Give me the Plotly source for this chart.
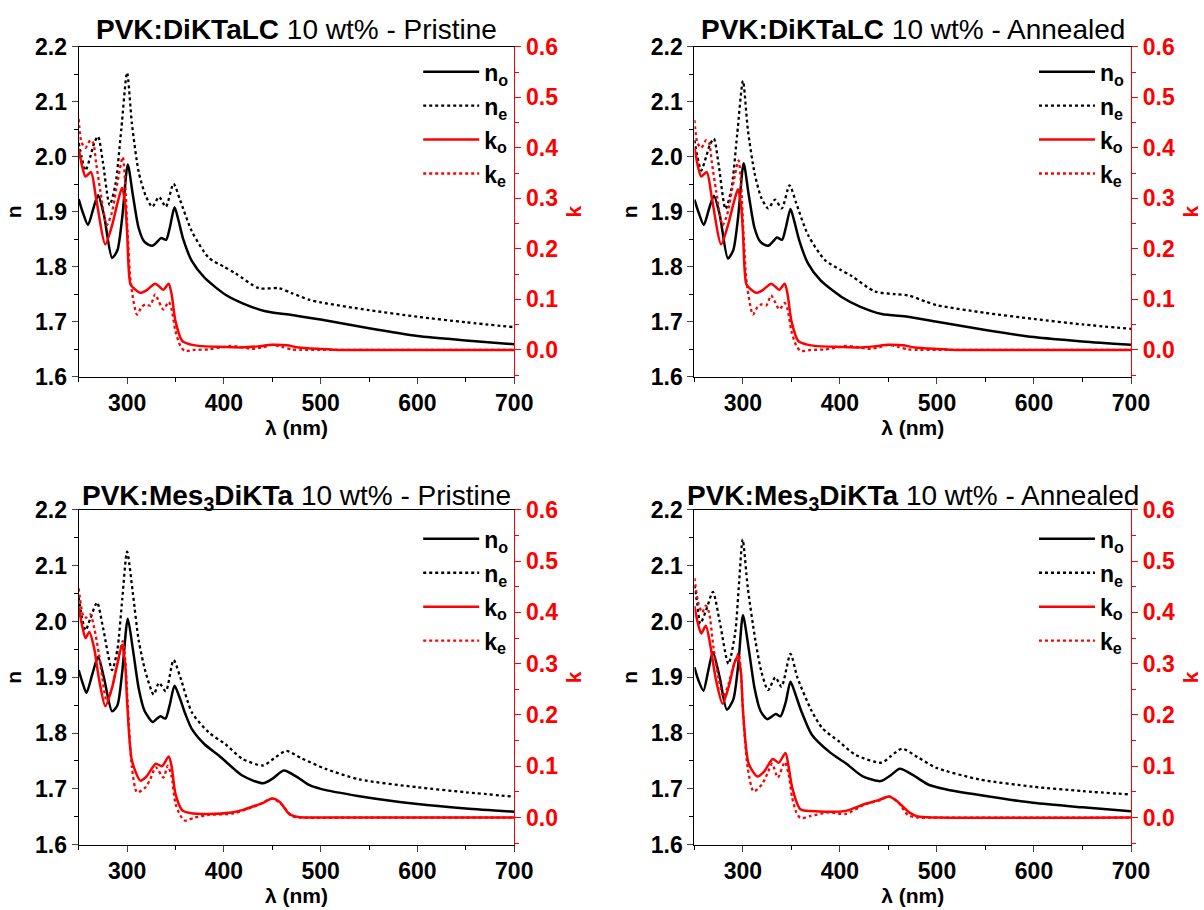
import plotly.graph_objects as go

# ---------------- data: PVK:DiKTaLC pristine (top-left) ----------------
wl_no_tl = [250, 254, 259.6, 265, 270, 276, 284.5, 290, 295, 300.7, 306, 312, 318, 325.9, 331, 335, 340.3, 344, 349, 353, 358, 367, 380, 401.7, 420, 443, 470, 500, 550, 600, 650, 700]
no_tl = [1.923, 1.90, 1.876, 1.905, 1.930, 1.895, 1.816, 1.83, 1.89, 1.986, 1.93, 1.87, 1.845, 1.838, 1.845, 1.852, 1.849, 1.87, 1.908, 1.885, 1.85, 1.810, 1.78, 1.749, 1.733, 1.719, 1.712, 1.704, 1.688, 1.674, 1.666, 1.659]
wl_ne_tl = [250, 253, 257, 262, 266, 270, 275, 282, 288, 294, 300, 305, 312, 319, 326, 333, 340, 348, 355, 367, 384.5, 400, 412, 436, 457, 470, 488, 500, 550, 600, 650, 700]
ne_tl = [2.025, 2.00, 1.975, 2.0, 2.025, 2.037, 1.99, 1.912, 1.95, 2.05, 2.153, 2.06, 1.972, 1.93, 1.909, 1.927, 1.909, 1.951, 1.92, 1.864, 1.816, 1.80, 1.788, 1.761, 1.761, 1.752, 1.740, 1.735, 1.721, 1.709, 1.699, 1.690]
wl_ko_tl = [250, 254, 257, 262.7, 268, 277.5, 285, 290, 294.8, 298, 300, 303.5, 308, 313.8, 320, 329, 333, 337.5, 343, 346, 350, 356.9, 365, 374, 400, 419, 435, 450, 465, 477, 500, 520, 550, 600, 650, 700]
ko_tl = [0.398, 0.36, 0.343, 0.352, 0.30, 0.209, 0.25, 0.29, 0.321, 0.29, 0.234, 0.130, 0.12, 0.113, 0.118, 0.131, 0.126, 0.119, 0.131, 0.11, 0.057, 0.018, 0.011, 0.008, 0.006, 0.005, 0.007, 0.010, 0.009, 0.005, 0.002, 0.0, 0.0, 0.0, 0.0, 0.0]
wl_ke_tl = [250, 253, 257, 262, 265, 268, 272.5, 279, 284, 289, 295.5, 298, 300.5, 304, 310.3, 315, 319, 324, 329, 333, 337.5, 343, 346, 350, 355, 359.6, 370, 384.5, 400, 407.5, 420, 429, 440, 450, 460, 470, 480, 500, 550, 600, 700]
ke_tl = [0.457, 0.41, 0.40, 0.415, 0.41, 0.37, 0.313, 0.247, 0.27, 0.32, 0.382, 0.33, 0.234, 0.130, 0.070, 0.085, 0.090, 0.088, 0.110, 0.095, 0.080, 0.095, 0.08, 0.037, 0.008, -0.002, 0.0, 0.001, 0.006, 0.008, 0.005, 0.002, 0.005, 0.010, 0.006, 0.001, 0.0, 0.0, 0.0, 0.0, 0.0]

# ---------------- data: PVK:DiKTaLC annealed (top-right) ----------------
wl_no_tr = wl_no_tl
no_tr = [1.922, 1.90, 1.876, 1.905, 1.929, 1.895, 1.815, 1.83, 1.89, 1.988, 1.93, 1.87, 1.845, 1.838, 1.846, 1.853, 1.849, 1.87, 1.905, 1.882, 1.848, 1.806, 1.775, 1.745, 1.728, 1.714, 1.709, 1.700, 1.685, 1.672, 1.664, 1.658]
wl_ne_tr = wl_ne_tl
ne_tr = [2.03, 2.00, 1.975, 2.0, 2.022, 2.033, 1.985, 1.905, 1.94, 2.04, 2.138, 2.05, 1.97, 1.925, 1.906, 1.922, 1.906, 1.948, 1.915, 1.858, 1.812, 1.795, 1.783, 1.755, 1.750, 1.748, 1.737, 1.730, 1.716, 1.705, 1.695, 1.687]
wl_ko_tr = wl_ko_tl
ko_tr = [0.40, 0.36, 0.343, 0.352, 0.30, 0.209, 0.25, 0.288, 0.318, 0.288, 0.232, 0.130, 0.12, 0.113, 0.118, 0.131, 0.126, 0.119, 0.131, 0.11, 0.057, 0.018, 0.011, 0.008, 0.006, 0.005, 0.007, 0.010, 0.009, 0.005, 0.002, 0.0, 0.0, 0.0, 0.0, 0.0]
wl_ke_tr = wl_ke_tl
ke_tr = [0.455, 0.41, 0.40, 0.415, 0.41, 0.37, 0.313, 0.247, 0.27, 0.32, 0.375, 0.33, 0.234, 0.130, 0.070, 0.085, 0.090, 0.088, 0.108, 0.095, 0.080, 0.093, 0.08, 0.037, 0.008, -0.002, 0.0, 0.001, 0.006, 0.008, 0.005, 0.002, 0.005, 0.010, 0.006, 0.001, 0.0, 0.0, 0.0, 0.0, 0.0]

# ---------------- data: PVK:Mes3DiKTa pristine (bottom-left) ----------------
wl_no_bl = [250, 254, 258, 264, 270, 276, 284.5, 290, 295, 300.7, 306, 312, 318, 326.5, 331, 334.5, 339.6, 344, 349, 354, 360, 367, 380, 394.8, 419, 440.5, 450, 462, 475, 488, 500, 540, 600, 650, 700]
no_bl = [1.913, 1.89, 1.872, 1.905, 1.937, 1.90, 1.839, 1.85, 1.91, 2.005, 1.95, 1.88, 1.84, 1.820, 1.826, 1.830, 1.826, 1.85, 1.885, 1.865, 1.835, 1.807, 1.78, 1.760, 1.724, 1.710, 1.718, 1.733, 1.722, 1.707, 1.700, 1.687, 1.673, 1.665, 1.659]
wl_ne_bl = [250, 253, 257, 262, 269, 275, 284.5, 290, 295, 300, 306, 312, 319, 327.5, 333, 340, 348, 355, 367, 384.5, 401.7, 419, 440.5, 452, 464.5, 480, 505, 540, 600, 650, 700]
ne_bl = [2.043, 2.01, 1.984, 2.005, 2.034, 1.99, 1.913, 1.95, 2.04, 2.125, 2.05, 1.966, 1.91, 1.869, 1.890, 1.875, 1.931, 1.90, 1.837, 1.801, 1.780, 1.754, 1.742, 1.755, 1.768, 1.755, 1.736, 1.717, 1.703, 1.694, 1.686]
wl_ko_bl = [250, 254, 257, 261, 266, 271, 277.5, 284, 290, 294.8, 298, 300, 305, 313.8, 320, 329.7, 336, 343, 346, 350, 357, 365, 384.5, 408, 420, 432, 440, 450, 458, 467, 477, 490, 550, 700]
ko_bl = [0.41, 0.37, 0.350, 0.362, 0.33, 0.27, 0.217, 0.25, 0.30, 0.337, 0.30, 0.227, 0.111, 0.072, 0.08, 0.105, 0.100, 0.119, 0.10, 0.046, 0.014, 0.009, 0.007, 0.010, 0.015, 0.023, 0.028, 0.037, 0.030, 0.008, 0.001, 0.0, 0.0, 0.0]
wl_ke_bl = [250, 255, 258, 262, 266, 271, 279, 284, 289, 295.5, 298, 300.5, 305, 310.3, 319, 324, 329.7, 337.5, 342, 346, 350, 355, 359.6, 370, 384.5, 410, 436, 450, 460, 470, 480, 550, 700]
ke_bl = [0.447, 0.392, 0.39, 0.396, 0.37, 0.318, 0.227, 0.25, 0.292, 0.344, 0.31, 0.227, 0.098, 0.049, 0.059, 0.075, 0.098, 0.078, 0.101, 0.08, 0.027, 0.004, -0.006, 0.0, 0.005, 0.008, 0.025, 0.037, 0.025, 0.003, 0.0, 0.0, 0.0]

# ---------------- data: PVK:Mes3DiKTa annealed (bottom-right) ----------------
wl_no_br = [250, 254, 259.3, 264, 269, 276, 283.4, 290, 295, 300, 306, 312, 318, 324.8, 330, 334, 338.6, 344, 349, 354, 360, 371, 390, 406, 423, 442, 452, 461.7, 475, 492, 510, 543.8, 599, 650, 700]
no_br = [1.918, 1.895, 1.876, 1.91, 1.945, 1.90, 1.842, 1.86, 1.92, 2.011, 1.95, 1.88, 1.84, 1.825, 1.830, 1.834, 1.830, 1.855, 1.892, 1.87, 1.84, 1.797, 1.765, 1.746, 1.723, 1.714, 1.724, 1.736, 1.725, 1.707, 1.699, 1.689, 1.675, 1.667, 1.660]
wl_ne_br = [250, 253, 256, 262, 269, 276, 285, 292, 296, 299.7, 305, 312.8, 319, 325.9, 333.4, 339.7, 349, 356, 371, 381.7, 399, 416, 442.8, 452, 463.8, 480, 499, 543.8, 599, 650, 700]
ne_br = [2.065, 2.03, 1.996, 2.02, 2.053, 2.0, 1.924, 1.98, 2.07, 2.147, 2.06, 1.966, 1.91, 1.877, 1.900, 1.883, 1.942, 1.90, 1.839, 1.809, 1.785, 1.761, 1.747, 1.758, 1.772, 1.757, 1.738, 1.717, 1.704, 1.696, 1.690]
wl_ko_br = [250, 254, 257, 261.7, 266, 272, 279, 286, 291, 294.8, 298, 300, 305.9, 315, 322, 330.7, 336.9, 343.8, 347, 350.7, 359.3, 378.3, 405.9, 426.6, 440, 450.7, 460, 471.4, 480, 500, 700]
ko_br = [0.412, 0.375, 0.359, 0.374, 0.34, 0.27, 0.222, 0.26, 0.30, 0.315, 0.28, 0.209, 0.105, 0.080, 0.09, 0.114, 0.107, 0.126, 0.10, 0.059, 0.016, 0.012, 0.013, 0.027, 0.034, 0.041, 0.030, 0.010, 0.002, 0.0, 0.0]
wl_ke_br = [250, 254, 258, 261.7, 265, 269.7, 275, 280, 285, 290, 295.5, 298, 300, 304.8, 311, 319.7, 325, 330, 336, 343, 347, 350.7, 355, 359.3, 370, 388.6, 406, 426, 440, 450.7, 460, 470, 480, 500, 700]
ke_br = [0.467, 0.418, 0.40, 0.413, 0.40, 0.330, 0.27, 0.235, 0.26, 0.294, 0.320, 0.28, 0.209, 0.098, 0.051, 0.065, 0.085, 0.105, 0.078, 0.108, 0.085, 0.039, 0.01, -0.001, 0.003, 0.010, 0.007, 0.026, 0.033, 0.041, 0.03, 0.005, 0.0, 0.0, 0.0]

titles = ["<b>PVK:DiKTaLC</b> 10 wt% - Pristine",
          "<b>PVK:DiKTaLC</b> 10 wt% - Annealed",
          "<b>PVK:Mes<sub>3</sub>DiKTa</b> 10 wt% - Pristine",
          "<b>PVK:Mes<sub>3</sub>DiKTa</b> 10 wt% - Annealed"]
legend_names = ["<b>n<sub>o</sub></b>", "<b>n<sub>e</sub></b>", "<b>k<sub>o</sub></b>", "<b>k<sub>e</sub></b>"]

panels = [
    (wl_no_tl, no_tl, wl_ne_tl, ne_tl, wl_ko_tl, ko_tl, wl_ke_tl, ke_tl),
    (wl_no_tr, no_tr, wl_ne_tr, ne_tr, wl_ko_tr, ko_tr, wl_ke_tr, ke_tr),
    (wl_no_bl, no_bl, wl_ne_bl, ne_bl, wl_ko_bl, ko_bl, wl_ke_bl, ke_bl),
    (wl_no_br, no_br, wl_ne_br, ne_br, wl_ko_br, ko_br, wl_ke_br, ke_br),
]

W, H = 1204, 910
FONT = "Arial, Liberation Sans, sans-serif"
BLACK = "#000000"
RED = "#ff0000"
TICK = 23


# target pixel -> layout pixel (compensates for the observed rendering offset/scale)
def px(v):
    return (v - 1.4) / 0.983


def py(v):
    return (v - 10.0) / 0.9776


# target pixel geometry of each panel: (left, right, top, bottom)
geom = [(80, 515, 44, 376), (695, 1131, 44, 376), (80, 515, 510, 847), (695, 1131, 510, 847)]
title_y = [27, 27, 498, 498]
legend_row = [74, 74, 544, 544]

fig = go.Figure()
layout = dict(width=W, height=H, margin=dict(l=0, r=0, t=0, b=0),
              paper_bgcolor="white", plot_bgcolor="white",
              font=dict(family=FONT, color=BLACK), annotations=[])

for i, (p, g) in enumerate(zip(panels, geom)):
    L, R, T, B = g
    xs = "x" if i == 0 else f"x{i+1}"
    yn = "y" if i == 0 else f"y{2*i+1}"
    yk = f"y{2*i+2}"
    leg = "legend" if i == 0 else f"legend{i+1}"
    styles = [(BLACK, "solid", yn), (BLACK, "dot", yn), (RED, "solid", yk), (RED, "dot", yk)]
    for j in range(4):
        col, dash, ya = styles[j]
        fig.add_trace(go.Scatter(
            x=p[2*j], y=p[2*j+1], mode="lines", name=legend_names[j],
            line=dict(color=col, width=2.5 if dash == "solid" else 2.3, dash=dash, shape="spline", smoothing=0.7),
            xaxis=xs, yaxis=ya, legend=leg, legendgroup=f"g{i}{j}", showlegend=True))

    xd = [px(L) / W, px(R) / W]
    yd = [1 - py(B) / H, 1 - py(T) / H]
    xkey = "xaxis" if i == 0 else f"xaxis{i+1}"
    ynkey = "yaxis" if i == 0 else f"yaxis{2*i+1}"
    ykkey = f"yaxis{2*i+2}"
    layout[xkey] = dict(domain=xd, anchor=yn, range=[250, 700], tickmode="array",
                        tickvals=[300, 400, 500, 600, 700], ticks="outside", ticklen=6, tickwidth=1.3,
                        minor=dict(tickvals=[250, 350, 450, 550, 650], ticks="outside", ticklen=4, tickwidth=1.3, tickcolor=BLACK),
                        showline=True, linecolor=BLACK, linewidth=1.3, mirror=True, showgrid=False, zeroline=False,
                        tickfont=dict(size=TICK, family=FONT, color=BLACK, weight="bold"),
                        title=dict(text="<b>λ (nm)</b>", font=dict(size=21, family=FONT, color=BLACK), standoff=3))
    layout[ynkey] = dict(domain=yd, anchor=xs, range=[1.6, 2.2], tickmode="array",
                         tickvals=[1.6, 1.7, 1.8, 1.9, 2.0, 2.1, 2.2], ticktext=["1.6", "1.7", "1.8", "1.9", "2.0", "2.1", "2.2"],
                         ticks="outside", ticklen=6, tickwidth=1.3,
                         minor=dict(tickvals=[1.65, 1.75, 1.85, 1.95, 2.05, 2.15], ticks="outside", ticklen=4, tickwidth=1.3, tickcolor=BLACK),
                         showline=True, linecolor=BLACK, linewidth=1.3, showgrid=False, zeroline=False,
                         tickfont=dict(size=TICK, family=FONT, color=BLACK, weight="bold"),
                         title=dict(text="<b>n</b>", font=dict(size=21, family=FONT, color=BLACK), standoff=7))
    layout[ykkey] = dict(anchor=xs, overlaying=yn, side="right", range=[-0.053, 0.6], tickmode="array",
                         tickvals=[0.0, 0.1, 0.2, 0.3, 0.4, 0.5, 0.6], ticktext=["0.0", "0.1", "0.2", "0.3", "0.4", "0.5", "0.6"],
                         ticks="outside", ticklen=6, tickwidth=1.3, tickcolor=RED,
                         minor=dict(tickvals=[-0.05, 0.05, 0.15, 0.25, 0.35, 0.45, 0.55], ticks="outside", ticklen=4, tickwidth=1.3, tickcolor=RED),
                         showline=True, linecolor=RED, linewidth=1.3, showgrid=False, zeroline=False,
                         tickfont=dict(size=TICK, family=FONT, color=RED, weight="bold"),
                         title=dict(text="<b>k</b>", font=dict(size=21, family=FONT, color=RED), standoff=9))
    # legend: first item centred near legend_row[i]
    layout[leg] = dict(x=(px(L + 344) - 5) / W, y=1 - (py(legend_row[i]) - 27) / H, xanchor="left", yanchor="top",
                       bgcolor="rgba(0,0,0,0)", borderwidth=0, traceorder="grouped", tracegroupgap=1,
                       itemwidth=56, font=dict(size=23, family=FONT, color=BLACK))
    layout["annotations"].append(dict(text=titles[i], x=px((L + R) / 2) / W, y=1 - py(title_y[i]) / H,
                                      xref="paper", yref="paper", xanchor="center", yanchor="middle", showarrow=False,
                                      font=dict(size=28, family=FONT, color=BLACK)))

fig.update_layout(**layout)
fig.write_html("out.html")
